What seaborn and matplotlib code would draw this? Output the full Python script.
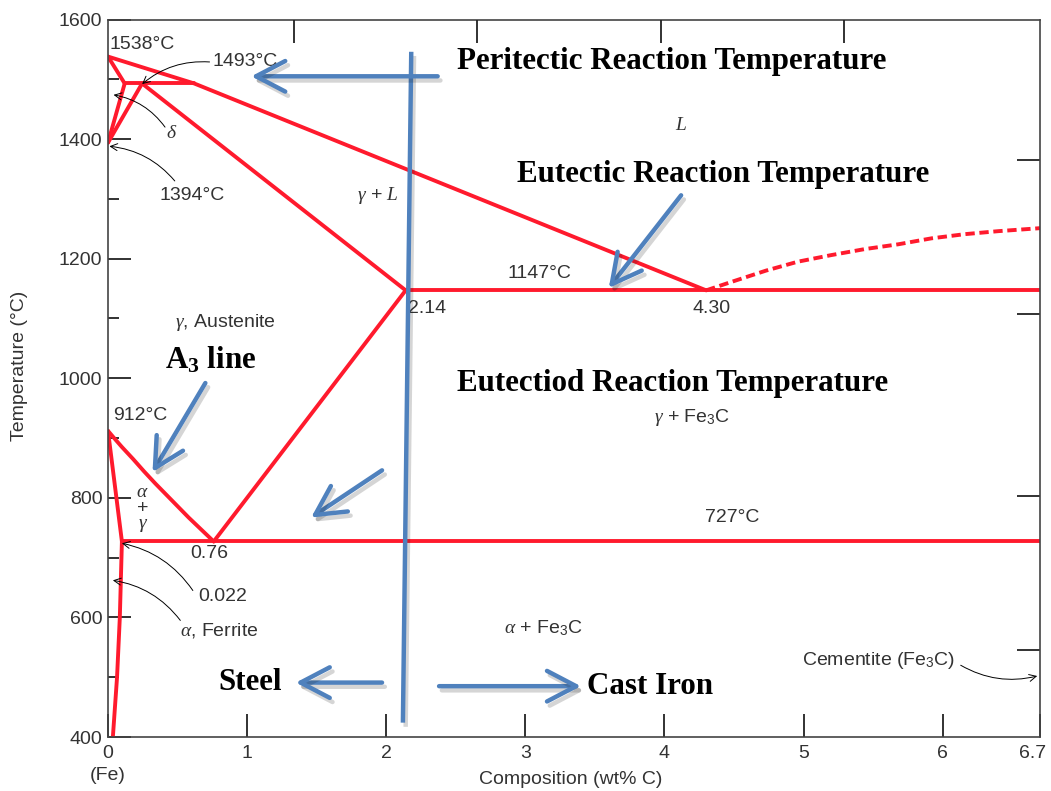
import numpy as np
import pandas as pd
import matplotlib
matplotlib.use("Agg")
import matplotlib.pyplot as plt
import matplotlib.patheffects as pe
import matplotlib.transforms as mtrans
import seaborn as sns

# ---------------- data ----------------
# solid phase boundaries (wt% C, deg C)
liquidus_x = [0.0, 0.62, 4.30]
liquidus_y = [1538, 1493, 1147]
delta_solidus_x = [0.0, 0.12]
delta_solidus_y = [1538, 1493]
peritectic_x = [0.12, 0.62]
peritectic_y = [1493, 1493]
delta_solvus_x = [0.12, 0.0]
delta_solvus_y = [1493, 1394]
gamma_delta_x = [0.245, 0.0]
gamma_delta_y = [1493, 1394]
gamma_solidus_x = [0.245, 2.14]
gamma_solidus_y = [1493, 1147]
eutectic_x = [2.14, 6.7]
eutectic_y = [1147, 1147]
acm_x = [0.76, 2.14]
acm_y = [727, 1147]
a3_x = [0.0, 0.04, 0.10, 0.18, 0.26, 0.34, 0.42, 0.50, 0.58, 0.67, 0.76]
a3_y = [912, 901, 885, 865, 844, 824, 805, 786, 767, 747, 727]
alpha_solvus_x = [0.0, 0.10]
alpha_solvus_y = [912, 727]
ferrite_solvus_x = [0.10, 0.085, 0.065, 0.035]
ferrite_solvus_y = [727, 600, 500, 400]
eutectoid_x = [0.10, 6.7]
eutectoid_y = [727, 727]
# dashed cementite liquidus
cem_liq_x = [4.30, 4.48, 4.73, 4.96, 5.20, 5.44, 5.68, 5.92, 6.16, 6.40, 6.70]
cem_liq_y = [1147, 1161, 1180, 1195, 1206, 1216, 1224, 1234, 1241, 1246, 1251]

# steel / cast-iron divider line
divider_x = [2.18, 2.12]
divider_y = [1546, 424]

# blue callout arrows
blue_start_x = [2.37, 4.12, 0.70, 1.97, 1.97, 2.38]
blue_start_y = [1505, 1306, 992, 846, 491, 485]
blue_tip_x = [1.03, 3.60, 0.32, 1.46, 1.35, 3.40]
blue_tip_y = [1505, 1151, 843, 767, 491, 485]

# bold captions
caption_text = ["Peritectic Reaction Temperature", "Eutectic Reaction Temperature",
                "Eutectiod Reaction Temperature", r"A$_\mathbf{3}$ line", "Steel", "Cast Iron"]
caption_x = [2.51, 2.94, 2.51, 0.41, 0.79, 3.44]
caption_y = [1529, 1340, 992, 1030, 491, 485]

# small labels (left aligned)
label_text = ["1538°C", "1394°C", "1147°C", "2.14", "4.30", r"$\gamma$, Austenite",
              "912°C", "727°C", "0.76", r"$\alpha$, Ferrite", "Cementite (Fe$_3$C)", "1493°C", "0.022"]
label_x = [0.01, 0.37, 2.87, 2.16, 4.20, 0.48, 0.04, 4.29, 0.59, 0.52, 4.99, 0.75, 0.65]
label_y = [1559, 1305, 1176, 1116, 1116, 1094, 938, 767, 707, 578, 528, 1529, 635]

# centered phase-field labels
field_text = [r"$\delta$", r"$\gamma$ + $L$", r"$L$", r"$\gamma$ + Fe$_3$C", r"$\alpha$", "+",
              r"$\gamma$", r"$\alpha$ + Fe$_3$C"]
field_x = [0.46, 1.94, 4.12, 4.20, 0.25, 0.25, 0.25, 3.13]
field_y = [1410, 1305, 1422, 935, 809, 782, 754, 582]

# thin black pointer arrows: from label to point
ptr_from_x = [0.73, 0.41, 0.48, 0.61, 0.52, 6.13]
ptr_from_y = [1529, 1420, 1330, 645, 595, 520]
ptr_to_x = [0.245, 0.04, 0.01, 0.10, 0.035, 6.68]
ptr_to_y = [1492, 1474, 1388, 724, 662, 502]

x_ticks = [0, 1, 2, 3, 4, 5, 6, 6.7]
x_tick_labels = ["0", "1", "2", "3", "4", "5", "6", "6.7"]
y_ticks = [400, 600, 800, 1000, 1200, 1400, 1600]
top_ticks = [1.334, 2.654, 3.974, 5.29]
right_ticks = [545, 803, 1107, 1365]

# ---------------- styling ----------------
sns.set_theme(style="white")
plt.rcParams["font.family"] = ["Liberation Sans", "DejaVu Sans"]
plt.rcParams["mathtext.fontset"] = "custom"
plt.rcParams["mathtext.rm"] = "Liberation Sans"
plt.rcParams["mathtext.it"] = "Liberation Serif:italic"
plt.rcParams["mathtext.bf"] = "Liberation Serif:bold"

RED = "#FF1A2D"
BLUE = "#4F81BD"
GRAY = "#333333"
TICK = "#222222"
FS = 14

W, H = 1051, 791
fig = plt.figure(figsize=(W / 100, H / 100), dpi=100)
ax_h_px = 737 - 19.5
ax = fig.add_axes([108 / W, 1 - 737 / H, (1040 - 108) / W, ax_h_px / H])

boundaries = {
    "liquidus": (liquidus_x, liquidus_y),
    "delta_solidus": (delta_solidus_x, delta_solidus_y),
    "peritectic": (peritectic_x, peritectic_y),
    "delta_solvus": (delta_solvus_x, delta_solvus_y),
    "gamma_delta": (gamma_delta_x, gamma_delta_y),
    "gamma_solidus": (gamma_solidus_x, gamma_solidus_y),
    "eutectic": (eutectic_x, eutectic_y),
    "acm": (acm_x, acm_y),
    "a3": (a3_x, a3_y),
    "alpha_solvus": (alpha_solvus_x, alpha_solvus_y),
    "ferrite_solvus": (ferrite_solvus_x, ferrite_solvus_y),
    "eutectoid": (eutectoid_x, eutectoid_y),
}
rows = []
for name, (xs, ys) in boundaries.items():
    for i, (xv, yv) in enumerate(zip(xs, ys)):
        rows.append({"boundary": name, "order": i, "x": xv, "y": yv})
df = pd.DataFrame(rows)
sns.lineplot(data=df, x="x", y="y", units="boundary", estimator=None, sort=False,
             color=RED, lw=2.8, ax=ax, legend=False)
df_dash = pd.DataFrame({"x": cem_liq_x, "y": cem_liq_y})
sns.lineplot(data=df_dash, x="x", y="y", estimator=None, sort=False, color=RED,
             lw=2.8, ax=ax, legend=False, linestyle=(0, (2.4, 1.2)))

# divider line
shadow = [pe.SimpleLineShadow(offset=(2, -3), shadow_color="k", alpha=0.18), pe.Normal()]
ax.plot(divider_x, divider_y, color=BLUE, lw=3.2, solid_capstyle="butt", path_effects=shadow, zorder=5)

for sx, sy, tx, ty in zip(blue_start_x, blue_start_y, blue_tip_x, blue_tip_y):
    ax.annotate("", xy=(tx, ty), xytext=(sx, sy),
                arrowprops=dict(arrowstyle="->,head_length=2.1,head_width=1.1", color=BLUE,
                                lw=3.2, shrinkA=0, shrinkB=0, mutation_scale=10,
                                path_effects=shadow), zorder=5)

for t, xv, yv in zip(caption_text, caption_x, caption_y):
    ax.text(xv, yv, t, family="Liberation Serif", weight="bold", fontsize=22.3,
            color="black", ha="left", va="center", zorder=6)

for t, xv, yv in zip(label_text, label_x, label_y):
    ax.text(xv, yv, t, fontsize=FS, color=GRAY, ha="left", va="center")

for t, xv, yv in zip(field_text, field_x, field_y):
    ax.text(xv, yv, t, fontsize=FS, color=GRAY, ha="center", va="center")

for fx, fy, tx, ty in zip(ptr_from_x, ptr_from_y, ptr_to_x, ptr_to_y):
    ax.annotate("", xy=(tx, ty), xytext=(fx, fy),
                arrowprops=dict(arrowstyle="->,head_length=0.5,head_width=0.25", color="black",
                                lw=0.7, shrinkA=0, shrinkB=0, mutation_scale=10,
                                connectionstyle="arc3,rad=0.2"))

# axes
ax.set_xlim(0, 6.7)
ax.set_ylim(400, 1600)
ax.set_xticks(x_ticks)
ax.set_xticklabels(x_tick_labels)
ax.set_yticks(y_ticks)
ax.set_yticks(np.arange(500, 1600, 200), minor=True)
ax.tick_params(axis="both", which="major", direction="in", length=16.5, width=1.3,
               color=TICK, labelsize=FS, labelcolor=GRAY, bottom=True, left=True,
               top=False, right=False)
ax.tick_params(axis="x", pad=6)
ax.tick_params(axis="y", pad=4)
ax.tick_params(axis="y", which="minor", direction="in", length=8, width=1.3, color=TICK,
               left=True, right=False)
for sp in ax.spines.values():
    sp.set_color("#444444")
    sp.set_linewidth(1.2)
# nudge the last x tick label so it stays inside the figure
last = ax.get_xticklabels()[-1]
last.set_transform(last.get_transform() + mtrans.ScaledTranslation(-7 / 100, 0, fig.dpi_scale_trans))

# tick rows on the top and right edges (secondary scales of the original diagram)
tick_frac_x = 23 / ax_h_px
ax.vlines(top_ticks, 1 - tick_frac_x, 1, transform=ax.get_xaxis_transform(),
          color=TICK, lw=1.3, clip_on=False, zorder=3)
sec_right = ax.secondary_yaxis("right")
sec_right.set_yticks(right_ticks)
sec_right.tick_params(axis="y", direction="in", length=16.5, width=1.3, color=TICK,
                      right=True, labelright=False)
sec_right.set_yticklabels([])
sec_right.spines["right"].set_visible(False)

ax.set_xlabel("Composition (wt% C)", fontsize=FS, color=GRAY, va="center")
ax.xaxis.set_label_coords((571 - 108) / 932, (737 - 779) / 717.5)
ax.set_ylabel("Temperature (°C)", fontsize=FS, color=GRAY, va="center")
ax.yaxis.set_label_coords((20 - 108) / 932, (737 - 366) / 717.5)
ax.text(0, (737 - 776) / 717.5, "(Fe)", transform=ax.get_xaxis_transform(),
        fontsize=FS, color=GRAY, ha="center", va="center")

fig.savefig("out.png", dpi=100)
